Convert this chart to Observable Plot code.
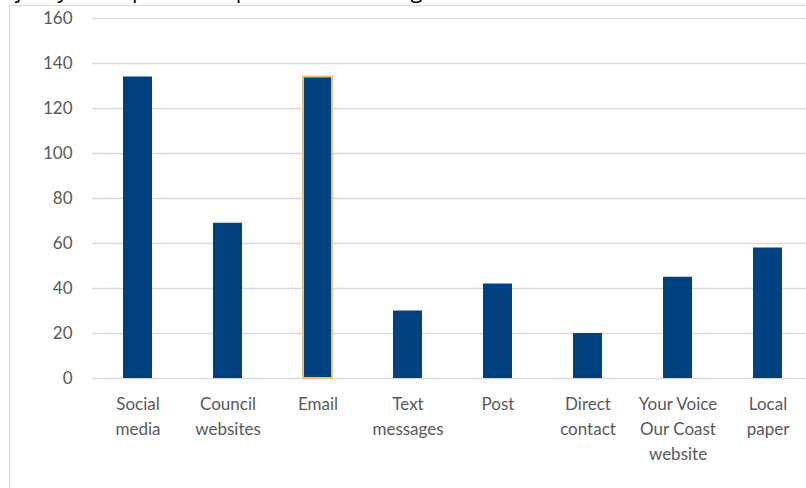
<!DOCTYPE html>
<html><head><meta charset="utf-8">
<script src="https://cdn.jsdelivr.net/npm/d3@7"></script>
<script src="https://cdn.jsdelivr.net/npm/@observablehq/plot@0.6"></script>
<style>
html,body{margin:0;padding:0;background:#fff;overflow:hidden;width:806px;height:488px;}
#wrap{position:relative;width:806px;height:488px;overflow:hidden;}
#title{position:absolute;left:-16px;top:-22px;font:22px/22px "Open Sans",sans-serif;color:#000;white-space:nowrap;}
#frame{position:absolute;left:9px;top:5px;width:820px;height:500px;border-left:1px solid #d9d9d9;border-top:1px solid #d9d9d9;}
#chart{position:absolute;left:0;top:0;width:815px;}
#chart svg{max-width:none !important;}
</style></head><body>
<div id="wrap">
<div id="title">Majority of respondents prefer to receive general information via social media</div>
<div id="frame"></div>
<div id="chart"></div>
</div>
<script>
const categories = ["Social\nmedia","Council\nwebsites","Email","Text\nmessages","Post","Direct\ncontact","Your Voice\nOur Coast\nwebsite","Local\npaper"];
const values = [134, 69, 134, 30, 42, 20, 45, 58];
const highlighted = ["Email"];
const yTicks = [0,20,40,60,80,100,120,140,160];

const data = categories.map((c,i) => ({cat: c, value: values[i]}));
const hl = data.filter(d => highlighted.includes(d.cat));

const chart = Plot.plot({
  width: 815,
  height: 488,
  marginLeft: 92,
  marginRight: 3,
  marginTop: 18,
  marginBottom: 110,
  style: {fontFamily: "Lato, sans-serif", fontSize: "17px", color: "#595959", background: "transparent", maxWidth: "none"},
  x: {domain: categories, paddingInner: 0.678, paddingOuter: 0.339, label: null},
  y: {domain: [0,160], label: null},
  marks: [
    Plot.gridY(yTicks, {stroke: "#d9d9d9", strokeOpacity: 1, strokeWidth: 1.3}),
    Plot.barY(data, {x: "cat", y: "value", fill: "#00427f"}),
    Plot.barY(hl, {x: "cat", y: "value", fill: "none", stroke: "#e9c46a", strokeWidth: 2}),
    Plot.axisY({ticks: yTicks, tickSize: 0, tickPadding: 20, fill: "#595959", fontSize: 17, label: null}),
    Plot.axisX({tickSize: 0, tickPadding: 14, fill: "#595959", fontSize: 17, lineHeight: 1.47, label: null})
  ]
});
document.getElementById("chart").appendChild(chart);
</script>
</body></html>
